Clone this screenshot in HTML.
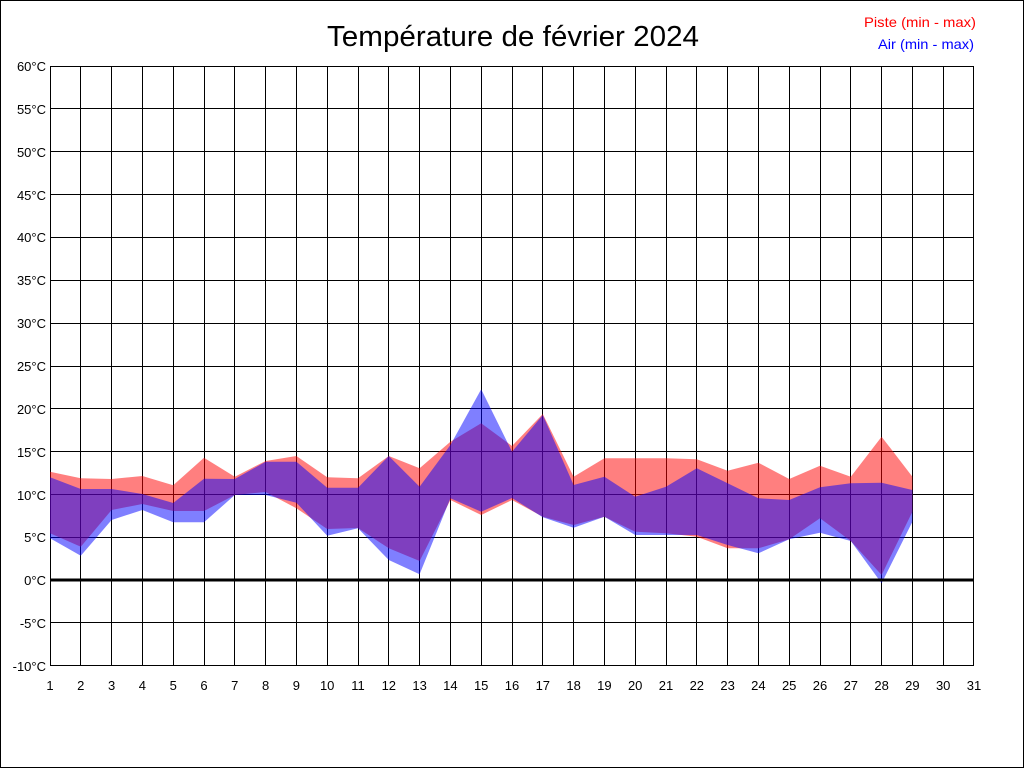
<!DOCTYPE html>
<html><head><meta charset="utf-8"><style>body{margin:0;background:#fff}svg{display:block}</style></head>
<body>
<svg width="1024" height="768" xmlns="http://www.w3.org/2000/svg" font-family="Liberation Sans, sans-serif">
<rect x="0.5" y="0.5" width="1023" height="767" fill="#fff" stroke="#000"/>
<text x="513" y="46" font-size="29" text-anchor="middle" textLength="372" lengthAdjust="spacingAndGlyphs">Température de février 2024</text>
<text x="976" y="27" font-size="14" fill="#f00" text-anchor="end" textLength="112" lengthAdjust="spacingAndGlyphs">Piste (min - max)</text>
<text x="974" y="49" font-size="14" fill="#00f" text-anchor="end" textLength="96" lengthAdjust="spacingAndGlyphs">Air (min - max)</text>
<path stroke="#000" stroke-width="1" fill="none" shape-rendering="crispEdges" d="
M50.5 66V666 M80.5 66V666 M111.5 66V666 M142.5 66V666 M173.5 66V666 M204.5 66V666 M234.5 66V666 M265.5 66V666 M296.5 66V666 M327.5 66V666 M358.5 66V666 M388.5 66V666 M419.5 66V666 M450.5 66V666 M481.5 66V666 M512.5 66V666 M542.5 66V666 M573.5 66V666 M604.5 66V666 M635.5 66V666 M666.5 66V666 M696.5 66V666 M727.5 66V666 M758.5 66V666 M789.5 66V666 M820.5 66V666 M850.5 66V666 M881.5 66V666 M912.5 66V666 M943.5 66V666 M973.5 66V666
M50 66.5H974 M50 108.5H974 M50 151.5H974 M50 194.5H974 M50 237.5H974 M50 280.5H974 M50 323.5H974 M50 366.5H974 M50 408.5H974 M50 451.5H974 M50 494.5H974 M50 537.5H974 M50 622.5H974 M50 665.5H974"/>
<polygon fill="rgba(255,0,0,0.5)" points="50,471.7 80.8,478.3 111.6,479 142.4,476 173.2,485.3 204,457.7 234.8,476.7 265.6,461 296.4,456 327.2,477.3 358,478.3 388.8,456 419.6,468.3 450.4,441.7 481.2,423.3 512,446 542.8,414 573.6,476.7 604.4,458.3 635.2,458.3 666,458.3 696.8,459.3 727.6,470.7 758.4,462.7 789.2,479 820,465.7 850.8,476.7 881.6,436.7 912.4,476.7 912.4,511.7 881.6,575 850.8,541 820,518.3 789.2,539.3 758.4,548.3 727.6,548.3 696.8,536.7 666,533.3 635.2,531.7 604.4,516.7 573.6,525 542.8,516.7 512,500 481.2,515 450.4,500 419.6,561 388.8,548.3 358,528 327.2,529 296.4,508.3 265.6,492 234.8,495 204,511 173.2,511 142.4,504 111.6,510 80.8,546.7 50,533.3"/>
<polygon fill="rgba(0,0,255,0.5)" points="50,477.3 80.8,489 111.6,489 142.4,494 173.2,503 204,478.7 234.8,479 265.6,461.7 296.4,461.7 327.2,487.7 358,487.7 388.8,456 419.6,486.7 450.4,445 481.2,389.3 512,451.7 542.8,415 573.6,485 604.4,476.7 635.2,496.7 666,486.7 696.8,468.3 727.6,483.3 758.4,498.3 789.2,500 820,487.3 850.8,483.3 881.6,482.7 912.4,490 912.4,521.7 881.6,583.3 850.8,541 820,532.7 789.2,539.3 758.4,553.3 727.6,545 696.8,535 666,535 635.2,535 604.4,516.7 573.6,527.7 542.8,517.3 512,498 481.2,511.7 450.4,498.3 419.6,574.3 388.8,560 358,528.3 327.2,535.7 296.4,502.7 265.6,495 234.8,495 204,522.3 173.2,522.3 142.4,510 111.6,520 80.8,555.7 50,538.3"/>
<line x1="50" y1="580" x2="974" y2="580" stroke="#000" stroke-width="3"/>
<g font-size="13" text-anchor="end">
<text x="46" y="71">60°C</text><text x="46" y="114">55°C</text><text x="46" y="157">50°C</text><text x="46" y="200">45°C</text><text x="46" y="242">40°C</text><text x="46" y="285">35°C</text><text x="46" y="328">30°C</text><text x="46" y="371">25°C</text><text x="46" y="414">20°C</text><text x="46" y="457">15°C</text><text x="46" y="500">10°C</text><text x="46" y="542">5°C</text><text x="46" y="585">0°C</text><text x="46" y="628">-5°C</text><text x="46" y="671">-10°C</text>
</g>
<g font-size="13" text-anchor="middle">
<text x="50" y="690">1</text><text x="80.8" y="690">2</text><text x="111.6" y="690">3</text><text x="142.4" y="690">4</text><text x="173.2" y="690">5</text><text x="204" y="690">6</text><text x="234.8" y="690">7</text><text x="265.6" y="690">8</text><text x="296.4" y="690">9</text><text x="327.2" y="690">10</text><text x="358" y="690">11</text><text x="388.8" y="690">12</text><text x="419.6" y="690">13</text><text x="450.4" y="690">14</text><text x="481.2" y="690">15</text><text x="512" y="690">16</text><text x="542.8" y="690">17</text><text x="573.6" y="690">18</text><text x="604.4" y="690">19</text><text x="635.2" y="690">20</text><text x="666" y="690">21</text><text x="696.8" y="690">22</text><text x="727.6" y="690">23</text><text x="758.4" y="690">24</text><text x="789.2" y="690">25</text><text x="820" y="690">26</text><text x="850.8" y="690">27</text><text x="881.6" y="690">28</text><text x="912.4" y="690">29</text><text x="943.2" y="690">30</text><text x="974" y="690">31</text>
</g>
</svg>
</body></html>
